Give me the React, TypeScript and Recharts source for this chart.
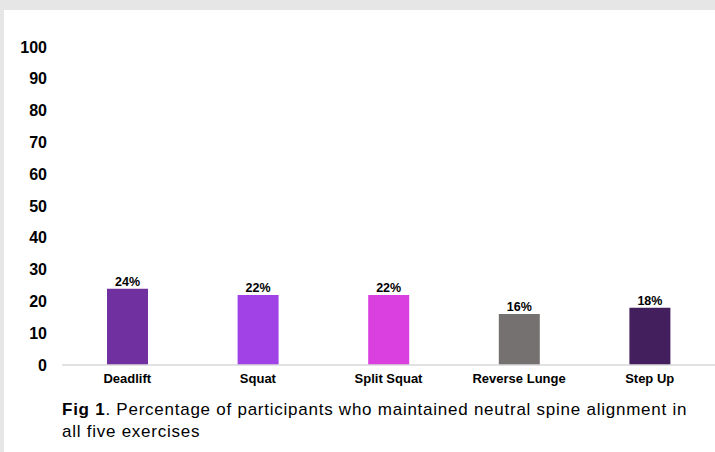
import React from 'react';
import { BarChart, Bar, XAxis, YAxis, Cell, LabelList } from 'recharts';

// exercises and percentages
const exercises = ['Deadlift', 'Squat', 'Split Squat', 'Reverse Lunge', 'Step Up'];
const percentages = [24, 22, 22, 16, 18];
const barColors = ['#7030a0', '#a042e6', '#da3fe0', '#767171', '#441f5e'];
const yTicks = [0, 10, 20, 30, 40, 50, 60, 70, 80, 90, 100];

const chartData = exercises.map((name, i) => ({ name, value: percentages[i] }));

const font = '"Liberation Sans", Arial, sans-serif';

const App = () => {
  return (
    <div
      style={{
        position: 'absolute',
        left: 0,
        top: 0,
        width: 715,
        height: 452,
        background: '#e6e6e6',
        overflow: 'hidden',
        fontFamily: font,
      }}
    >
      <div
        style={{
          position: 'absolute',
          left: 4,
          top: 10,
          width: 711,
          height: 442,
          background: '#ffffff',
        }}
      />
      <div style={{ position: 'absolute', left: 0, top: 0 }}>
        <BarChart
          width={715}
          height={400}
          data={chartData}
          margin={{ top: 47, right: 0, bottom: 5, left: 0 }}
        >
          <XAxis
            dataKey="name"
            axisLine={{ stroke: '#d9d9d9', strokeWidth: 1.5 }}
            tickLine={false}
            tickMargin={3}
            tick={{ fill: '#000', fontSize: 13, fontWeight: 'bold', fontFamily: font }}
            interval={0}
          />
          <YAxis
            width={62}
            domain={[0, 100]}
            ticks={yTicks}
            axisLine={false}
            tickLine={false}
            tickMargin={9}
            tick={{ fill: '#000', fontSize: 16, fontWeight: 'bold', fontFamily: font }}
          />
          <Bar dataKey="value" barSize={41} isAnimationActive={false}>
            {chartData.map((d, i) => (
              <Cell key={d.name} fill={barColors[i]} />
            ))}
            <LabelList
              dataKey="value"
              position="top"
              offset={3}
              formatter={(v: number) => `${v}%`}
              style={{ fill: '#000', fontSize: 12.5, fontWeight: 'bold', fontFamily: font }}
            />
          </Bar>
        </BarChart>
      </div>
      <div
        style={{
          position: 'absolute',
          left: 62,
          top: 399,
          width: 650,
          fontSize: 17,
          letterSpacing: 0.75,
          lineHeight: '22px',
          color: '#000',
          whiteSpace: 'nowrap',
        }}
      >
        <b>Fig 1</b>. Percentage of participants who maintained neutral spine alignment in
        <br />
        all five exercises
      </div>
    </div>
  );
};

export default App;
